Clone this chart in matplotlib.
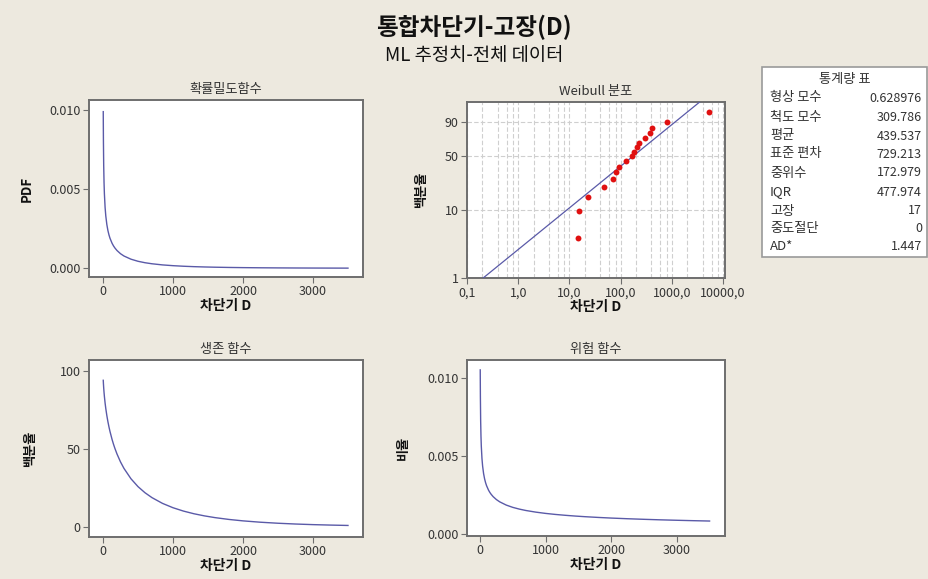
import numpy as np
import matplotlib
matplotlib.use("Agg")
import matplotlib.pyplot as plt
from matplotlib.patches import Rectangle
from matplotlib.ticker import FixedLocator, FixedFormatter, NullLocator

plt.rcParams['font.family'] = ['Noto Sans CJK KR', 'DejaVu Sans']

# curve values
t_vals = [3.7, 4, 6, 10, 15, 20, 30, 40, 55, 70, 85, 100, 130, 150, 170, 200, 250,
          300, 400, 500, 600, 700, 850, 1000, 1150, 1300, 1450, 1600, 1800, 2000,
          2250, 2500, 2750, 3000, 3250, 3500]
pdf_vals = [0.009866, 0.009555, 0.008067, 0.006466, 0.005380, 0.004695, 0.003835,
            0.003293, 0.002752, 0.002381, 0.002106, 0.001890, 0.001570, 0.001410,
            0.001278, 0.001118, 0.000917, 0.000771, 0.000571, 0.000440, 0.000349,
            0.000283, 0.0002115, 0.000163, 0.0001274, 0.000101, 0.0000817, 0.0000666,
            0.0000513, 0.0000401, 0.0000300, 0.0000227, 0.0000174, 0.0000135,
            0.0000106, 0.0000083]
surv_vals = [94.01, 93.72, 91.97, 89.10, 86.17, 83.66, 79.43, 75.88, 71.38, 67.54,
             64.19, 61.20, 56.04, 53.06, 50.38, 46.80, 41.73, 37.53, 30.90, 25.89,
             21.97, 18.83, 15.15, 12.37, 10.21, 8.50, 7.14, 6.03, 4.86, 3.95, 3.08,
             2.43, 1.93, 1.54, 1.25, 1.01]
haz_vals = [0.010495, 0.010195, 0.008771, 0.007257, 0.006244, 0.005612, 0.004828,
            0.004339, 0.003856, 0.003526, 0.003281, 0.003089, 0.002802, 0.002657,
            0.002537, 0.002388, 0.002199, 0.002055, 0.001847, 0.001700, 0.001589,
            0.001500, 0.001396, 0.001314, 0.001248, 0.001193, 0.001145, 0.001104,
            0.001057, 0.001016, 0.000973, 0.000936, 0.000903, 0.000875, 0.000849,
            0.000826]

# Weibull probability plot
fail_t = [14.5, 15.6, 23.4, 46.8, 71, 81, 94, 127, 165, 185, 212, 232, 300, 375,
          404, 794, 5330]
fail_pct = [4.0, 9.8, 15.5, 21.3, 27.0, 32.8, 38.5, 44.3, 50.0, 55.7, 61.5, 67.2,
            73.0, 78.7, 84.5, 90.2, 96.0]
fit_t = [0.207, 3512]
fit_pct = [1, 99]

stat_names = ["형상 모수", "척도 모수", "평균", "표준 편차", "중위수", "IQR", "고장", "중도절단", "AD*"]
stat_values = ["0.628976", "309.786", "439.537", "729.213", "172.979", "477.974", "17", "0", "1.447"]

bg = "#EDE9DF"
line_c = "#5A5AA8"
spine_c = "#6E6E6E"
txt_c = "#333333"

fig = plt.figure(figsize=(9.29, 5.79), dpi=100, facecolor=bg)

fig.text(0.510, 0.953, "통합차단기-고장(D)", ha="center", va="center",
         fontsize=17, fontweight="bold", color="#111111")
fig.text(0.510, 0.905, "ML 추정치-전체 데이터", ha="center", va="center",
         fontsize=13.5, color="#111111")


def style(ax, title, ylabel, ylx):
    ax.set_facecolor("white")
    for s in ax.spines.values():
        s.set_color(spine_c)
        s.set_linewidth(1.4)
    ax.tick_params(direction="out", length=4, width=0.8, color=spine_c,
                   labelsize=9, labelcolor=txt_c, pad=2)
    ax.set_title(title, fontsize=9.5, color=txt_c, pad=5)
    ax.set_xlabel("차단기 D", fontsize=10, fontweight="bold", color="#111111")
    ax.xaxis.set_label_coords(0.5, -0.125)
    ax.set_ylabel(ylabel, fontsize=9.5, fontweight="bold", color="#111111")
    ax.yaxis.set_label_coords(ylx, 0.5)


# PDF
ax1 = fig.add_axes([0.0958, 0.5216, 0.2949, 0.3057])
ax1.plot(t_vals, pdf_vals, color=line_c, lw=1)
ax1.set_xlim(-200, 3714)
ax1.set_ylim(-0.00055, 0.0106)
ax1.set_xticks([0, 1000, 2000, 3000])
ax1.set_yticks([0.0, 0.005, 0.010])
ax1.set_yticklabels(["0.000", "0.005", "0.010"])
style(ax1, "확률밀도함수", "PDF", -0.2)

# Weibull plot
ax2 = fig.add_axes([0.5027, 0.5199, 0.2777, 0.3040])


def fwd(p):
    p = np.clip(np.asarray(p, dtype=float), 1e-6, 100 - 1e-6)
    return np.log(-np.log(1 - p / 100.0))


def inv(y):
    return 100.0 * (1 - np.exp(-np.exp(y)))


ax2.set_xscale("log")
ax2.set_yscale("function", functions=(fwd, inv))
ax2.set_xlim(0.1, 10940)
ax2.set_ylim(1, 99)
ax2.xaxis.set_major_locator(FixedLocator([0.1, 1, 10, 100, 1000, 10000]))
ax2.xaxis.set_major_formatter(FixedFormatter(["0,1", "1,0", "10,0", "100,0", "1000,0", "10000,0"]))
minor_x = [m * 10.0 ** e for e in range(-1, 4) for m in (2, 4, 6, 8)]
ax2.xaxis.set_minor_locator(FixedLocator(minor_x))
ax2.yaxis.set_major_locator(FixedLocator([1, 10, 50, 90]))
ax2.yaxis.set_major_formatter(FixedFormatter(["1", "10", "50", "90"]))
ax2.yaxis.set_minor_locator(NullLocator())
ax2.grid(True, which="both", axis="x", linestyle=(0, (4, 2)), color="#CFCFCF", lw=0.8)
ax2.grid(True, which="major", axis="y", linestyle=(0, (4, 2)), color="#CFCFCF", lw=0.8)
ax2.tick_params(which="minor", length=0)
ax2.set_axisbelow(True)
ax2.plot(fit_t, fit_pct, color=line_c, lw=0.9, zorder=3)
ax2.scatter(fail_t, fail_pct, s=18, color="#E01010", zorder=4, linewidths=0)
style(ax2, "Weibull 분포", "백분율", -0.15)

# survival
ax3 = fig.add_axes([0.0958, 0.0725, 0.2949, 0.3057])
ax3.plot(t_vals, surv_vals, color=line_c, lw=1)
ax3.set_xlim(-200, 3714)
ax3.set_ylim(-6.4, 107)
ax3.set_xticks([0, 1000, 2000, 3000])
ax3.set_yticks([0, 50, 100])
style(ax3, "생존 함수", "백분율", -0.19)

# hazard
ax4 = fig.add_axes([0.5027, 0.0743, 0.2777, 0.3040])
ax4.plot(t_vals, haz_vals, color=line_c, lw=1)
ax4.set_xlim(-198, 3735)
ax4.set_ylim(-0.00013, 0.01113)
ax4.set_xticks([0, 1000, 2000, 3000])
ax4.set_yticks([0.0, 0.005, 0.010])
ax4.set_yticklabels(["0.000", "0.005", "0.010"])
style(ax4, "위험 함수", "비율", -0.22)

# statistics table
fig.patches.append(Rectangle((0.820, 0.556), 0.1776, 0.328, transform=fig.transFigure,
                             facecolor="white", edgecolor="#9A9A9A", lw=1.2))
fig.text(0.909, 1 - 80 / 579, "통계량 표", ha="center", va="center", fontsize=9.5, color=txt_c)
row_y = [98, 117, 136, 154, 173, 192, 211, 229, 247]
for name, val, yy in zip(stat_names, stat_values, row_y):
    fig.text(770 / 929, 1 - yy / 579, name, ha="left", va="center", fontsize=9.5, color=txt_c)
    fig.text(922 / 929, 1 - yy / 579, val, ha="right", va="center", fontsize=9, color=txt_c)

fig.savefig("out.png", dpi=100, facecolor=bg)
